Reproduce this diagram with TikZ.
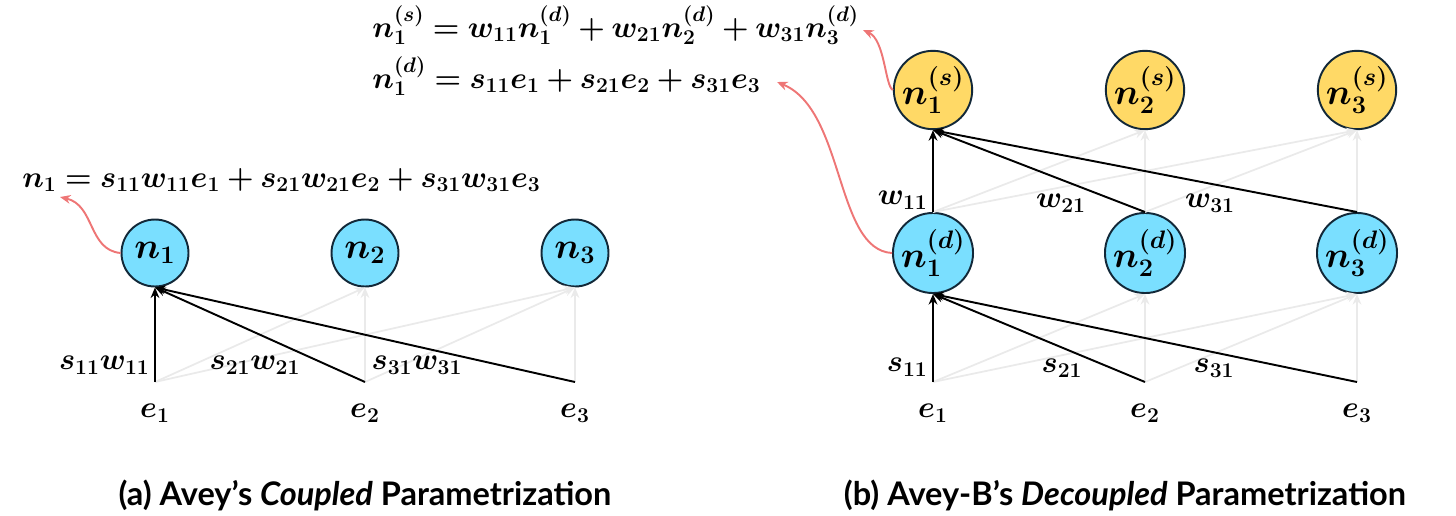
\documentclass[tikz,border=0pt]{standalone}
\usepackage{fontspec}
\usepackage{amsmath,bm}
\newfontfamily\legendefont{Lato}
\usetikzlibrary{arrows.meta,positioning}

\definecolor{bleu}{RGB}{122,223,255}
\definecolor{jaune}{RGB}{255,217,102}
\definecolor{bord}{RGB}{18,40,56}
\definecolor{rouge}{RGB}{238,118,118}
\definecolor{gris}{RGB}{234,234,234}

\begin{document}
\begin{tikzpicture}[
    x=0.02cm,
    y=-0.02cm,
    >={Stealth[length=6pt,width=5pt]},
    noeud/.style={
        circle,
        draw=bord,
        line width=1.1pt,
        minimum size=1.34cm,
        inner sep=0pt,
        font=\fontsize{20}{24}\selectfont
    },
    dnoeud/.style={
        noeud,
        fill=bleu
    },
    snoeud/.style={
        noeud,
        fill=jaune
    },
    fleche/.style={
        ->,
        line width=1.1pt
    },
    flechegris/.style={
        ->,
        draw=gris,
        line width=1pt
    },
    flecherouge/.style={
        ->,
        draw=rouge,
        line width=1.1pt
    },
    formule/.style={
        font=\fontsize{17}{20}\selectfont,
        inner sep=0pt
    },
    legende/.style={
        font=\legendefont\bfseries\fontsize{18.5}{22}\selectfont
    }
]

\useasboundingbox (0,0) rectangle (1456,515);

% (a) couple
\node[dnoeud] (n1) at (155,253) {$\bm{n_1}$};
\node[dnoeud] (n2) at (365,253) {$\bm{n_2}$};
\node[dnoeud] (n3) at (575,253) {$\bm{n_3}$};

\coordinate (a1) at (155,382);
\coordinate (a2) at (365,382);
\coordinate (a3) at (575,382);

\node[formule] (ea1) at (155,413) {$\bm{e_1}$};
\node[formule] (ea2) at (365,413) {$\bm{e_2}$};
\node[formule] (ea3) at (575,413) {$\bm{e_3}$};

\draw[flechegris] (a1) -- (n2.south);
\draw[flechegris] (a1) -- (n3.south);
\draw[flechegris] (a2) -- (n2.south);
\draw[flechegris] (a2) -- (n3.south);
\draw[flechegris] (a3) -- (n3.south);

\draw[fleche] (a1) -- (n1.south);
\draw[fleche] (a2) -- (n1.south);
\draw[fleche] (a3) -- (n1.south);

\node[formule, anchor=east] (la1) at (150,365) {$\bm{s_{11}w_{11}}$};
\node[formule] (la2) at (255,365) {$\bm{s_{21}w_{21}}$};
\node[formule] (la3) at (417,365) {$\bm{s_{31}w_{31}}$};

\node[formule, anchor=base west] (eqa) at (22,187)
{$\bm{n_1 = s_{11}w_{11}e_1 + s_{21}w_{21}e_2 + s_{31}w_{31}e_3}$};

\draw[flecherouge] (n1.west) .. controls (88,250) and (95,205) .. (60,197);

% (b) decouple
\node[snoeud] (s1) at (933,90) {$\bm{n_1^{(s)}}$};
\node[snoeud] (s2) at (1145,90) {$\bm{n_2^{(s)}}$};
\node[snoeud] (s3) at (1357,90) {$\bm{n_3^{(s)}}$};

\node[dnoeud] (d1) at (933,253) {$\bm{n_1^{(d)}}$};
\node[dnoeud] (d2) at (1145,253) {$\bm{n_2^{(d)}}$};
\node[dnoeud] (d3) at (1357,253) {$\bm{n_3^{(d)}}$};

\coordinate (b1) at (933,382);
\coordinate (b2) at (1145,382);
\coordinate (b3) at (1357,382);

\node[formule] (eb1) at (933,413) {$\bm{e_1}$};
\node[formule] (eb2) at (1145,413) {$\bm{e_2}$};
\node[formule] (eb3) at (1357,413) {$\bm{e_3}$};

\draw[flechegris] (b1) -- (d2.south);
\draw[flechegris] (b1) -- (d3.south);
\draw[flechegris] (b2) -- (d2.south);
\draw[flechegris] (b2) -- (d3.south);
\draw[flechegris] (b3) -- (d3.south);

\draw[flechegris] (d1.north) -- (s2.south);
\draw[flechegris] (d1.north) -- (s3.south);
\draw[flechegris] (d2.north) -- (s2.south);
\draw[flechegris] (d2.north) -- (s3.south);
\draw[flechegris] (d3.north) -- (s3.south);

\draw[fleche] (b1) -- (d1.south);
\draw[fleche] (b2) -- (d1.south);
\draw[fleche] (b3) -- (d1.south);

\draw[fleche] (d1.north) -- (s1.south);
\draw[fleche] (d2.north) -- (s1.south);
\draw[fleche] (d3.north) -- (s1.south);

\node[formule, anchor=east] (lb1) at (928,367) {$\bm{s_{11}}$};
\node[formule] (lb2) at (1062,368) {$\bm{s_{21}}$};
\node[formule] (lb3) at (1214,368) {$\bm{s_{31}}$};

\node[formule, anchor=east] (lw1) at (928,200) {$\bm{w_{11}}$};
\node[formule] (lw2) at (1061,203) {$\bm{w_{21}}$};
\node[formule] (lw3) at (1210,203) {$\bm{w_{31}}$};

\node[formule, anchor=base west] (eqs) at (372,37)
{$\bm{n_1^{(s)} = w_{11}n_1^{(d)} + w_{21}n_2^{(d)} + w_{31}n_3^{(d)}}$};
\node[formule, anchor=base west] (eqd) at (372,88)
{$\bm{n_1^{(d)} = s_{11}e_1 + s_{21}e_2 + s_{31}e_3}$};

\draw[flecherouge] (s1.west) .. controls (885,86) and (885,40) .. (863,30);
\draw[flecherouge] (d1.west) .. controls (835,250) and (845,110) .. (777,82);

% legendes
\node[legende] (capa) at (365,495) {(a) Avey’s \textit{Coupled} Parametrization};
\node[legende] (capb) at (1125,495) {(b) Avey-B’s \textit{Decoupled} Parametrization};

\end{tikzpicture}
\end{document}
